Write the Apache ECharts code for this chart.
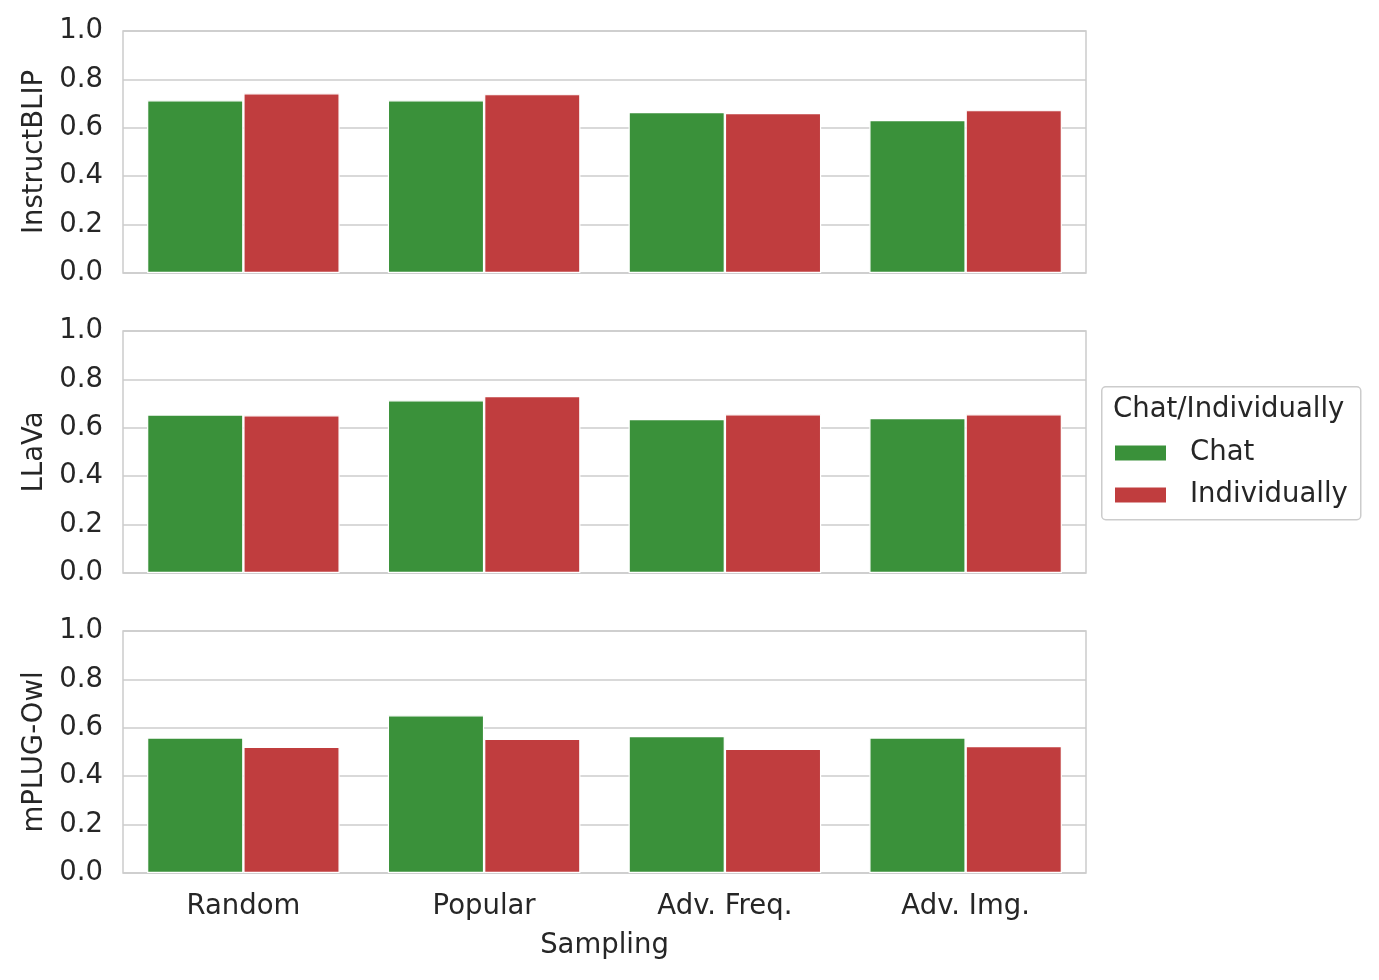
<!DOCTYPE html>
<html><head><meta charset="utf-8">
<script src="https://cdn.jsdelivr.net/npm/echarts@6/dist/echarts.min.js"></script>
<style>html,body{margin:0;padding:0;background:#fff}#c{width:1379px;height:980px}</style>
</head><body><div id="c"></div>
<script>
const categories = ['Random', 'Popular', 'Adv. Freq.', 'Adv. Img.'];
const models = ['InstructBLIP', 'LLaVa', 'mPLUG-Owl'];
const chatInstructBLIP = [0.714, 0.714, 0.665, 0.632];
const indivInstructBLIP = [0.743, 0.739, 0.661, 0.673];
const chatLLaVa = [0.655, 0.714, 0.636, 0.640];
const indivLLaVa = [0.652, 0.731, 0.656, 0.656];
const chatMPLUG = [0.560, 0.652, 0.566, 0.560];
const indivMPLUG = [0.522, 0.555, 0.513, 0.525];
const yTicks = [0.0, 0.2, 0.4, 0.6, 0.8, 1.0];

const chatVals = [chatInstructBLIP, chatLLaVa, chatMPLUG];
const indivVals = [indivInstructBLIP, indivLLaVa, indivMPLUG];

const GREEN = '#3a913a', RED = '#c03d3e';
const TXT = '#262626', GRIDC = '#cccccc';
const FONT = 'DejaVu Sans';
const FS = 27.5;
const tops = [31, 331, 631];
const H = 242;

const grids = [], xAxes = [], yAxes = [], series = [];
models.forEach((m, i) => {
  grids.push({left: 123, width: 963, top: tops[i], height: H, show: true,
    borderColor: GRIDC, borderWidth: 1.5, backgroundColor: '#fff'});
  const last = i === models.length - 1;
  xAxes.push({type: 'category', gridIndex: i, data: categories,
    axisLine: {show: false}, axisTick: {show: false},
    axisLabel: {show: last, color: TXT, fontSize: FS, fontFamily: FONT, margin: 20},
    name: last ? 'Sampling' : '', nameLocation: 'middle', nameGap: 59,
    nameTextStyle: {color: TXT, fontSize: FS, fontFamily: FONT}});
  yAxes.push({type: 'value', gridIndex: i, min: 0, max: 1, interval: 0.2,
    axisLine: {show: false}, axisTick: {show: false},
    axisLabel: {color: TXT, fontSize: FS, fontFamily: FONT, margin: 20,
      padding: [6, 0, 0, 0], formatter: v => v.toFixed(1)},
    splitLine: {lineStyle: {color: GRIDC, width: 1.5}},
    name: m, nameLocation: 'middle', nameGap: 74,
    nameTextStyle: {color: TXT, fontSize: FS, fontFamily: FONT}});
  series.push({type: 'bar', name: 'Chat', xAxisIndex: i, yAxisIndex: i,
    data: chatVals[i], barGap: '0%', barCategoryGap: '20%',
    itemStyle: {color: GREEN, borderColor: '#fff', borderWidth: 1.2}});
  series.push({type: 'bar', name: 'Individually', xAxisIndex: i, yAxisIndex: i,
    data: indivVals[i], barGap: '0%', barCategoryGap: '20%',
    itemStyle: {color: RED, borderColor: '#fff', borderWidth: 1.2}});
});

const chart = echarts.init(document.getElementById('c'), null, {renderer: 'canvas'});
chart.setOption({
  animation: false,
  backgroundColor: '#fff',
  grid: grids, xAxis: xAxes, yAxis: yAxes, series: series,
  legend: {data: ['Chat', 'Individually'], orient: 'vertical', left: 1108, top: 434,
    itemWidth: 53, itemHeight: 17, itemGap: 14, icon: 'rect',
    textStyle: {color: TXT, fontSize: FS, fontFamily: FONT, padding: [0, 0, 0, 18]}},
  graphic: [
    {type: 'rect', left: 1101, top: 386, shape: {width: 259, height: 133, r: 4},
      style: {fill: '#fff', stroke: GRIDC, lineWidth: 1.5}, z: -1},
    {type: 'text', left: 1113, top: 396, style: {text: 'Chat/Individually',
      fill: TXT, fontSize: FS, fontFamily: FONT}}
  ]
});
</script></body></html>
